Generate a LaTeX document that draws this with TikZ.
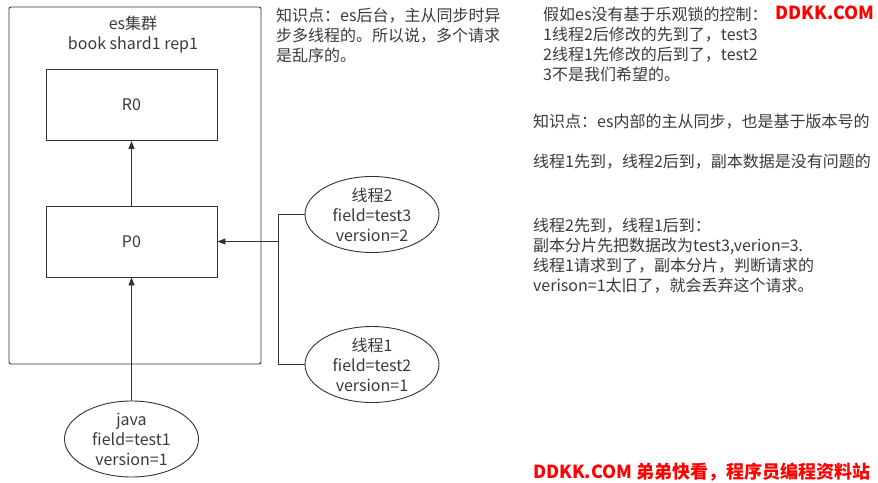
\documentclass[tikz,border=0pt]{standalone}
\usepackage{fontspec}
\setmainfont{Noto Sans CJK SC}
\usetikzlibrary{arrows.meta,shapes.geometric}
\definecolor{txt}{HTML}{3A3A3A}
\definecolor{ln}{HTML}{333333}
\definecolor{ddred}{HTML}{FF0000}
\begin{document}
\begin{tikzpicture}[x=1pt,y=-1pt,
  every node/.style={font=\fontsize{16}{20}\selectfont, text=txt},
  boxnode/.style={draw=ln, line width=0.9pt, minimum width=171pt, minimum height=71pt, inner sep=0pt},
  ellnode/.style={draw=ln, ellipse, line width=0.9pt, minimum width=134pt, minimum height=76pt, inner sep=0pt, align=center},
  conn/.style={draw=ln, line width=0.9pt},
  arr/.style={conn, -{Triangle[length=8pt,width=6pt]}},
  note/.style={anchor=north west, align=left, inner sep=0pt},
  brand/.style={text=ddred, font=\fontsize{18}{22}\selectfont\bfseries}
]
\useasboundingbox (0,0) rectangle (878,482);
\node[draw=ln, line width=0.9pt, rounded corners=2pt, minimum width=252pt, minimum height=357pt, inner sep=0pt] (cluster) at (135,185.5) {};
\node[align=center, inner sep=0pt] (title) at (133,35) {es集群\\book shard1 rep1};
\node[boxnode] (r0) at (131.5,105) {R0};
\node[boxnode] (p0) at (131.5,241.5) {P0};
\node[ellnode] (java) at (131.5,439) {java\\field=test1\\version=1};
\node[ellnode] (t2) at (372,214.5) {线程2\\field=test3\\version=2};
\node[ellnode] (t1) at (372,364.5) {线程1\\field=test2\\version=1};
\coordinate (jb) at (278,364.5);
\coordinate (jm) at (278,241.5);
\draw[arr] (p0.north) -- (r0.south);
\draw[arr] (java.north) -- (p0.south);
\draw[conn] (t2.west) -| (jb) -- (t1.west);
\draw[arr] (jm) -- (p0.east);
\node[note] (n1) at (276,8) {知识点：es后台，主从同步时异\\步多线程的。所以说，多个请求\\是乱序的。};
\node[note] (n2) at (543,7) {假如es没有基于乐观锁的控制：\\1线程2后修改的先到了，test3\\2线程1先修改的后到了，test2\\3不是我们希望的。};
\node[note] (n3) at (533,114) {知识点：es内部的主从同步，也是基于版本号的};
\node[note] (n4) at (533,154) {线程1先到，线程2后到，副本数据是没有问题的};
\node[note] (n5) at (533,218) {线程2先到，线程1后到：\\副本分片先把数据改为test3,verion=3.\\线程1请求到了，副本分片，判断请求的\\verison=1太旧了，就会丢弃这个请求。};
\node[brand] (b1) at (825,13) {DDKK.COM};
\node[brand, anchor=east] (b2) at (874,472) {DDKK.COM 弟弟快看，程序员编程资料站};
\end{tikzpicture}
\end{document}
